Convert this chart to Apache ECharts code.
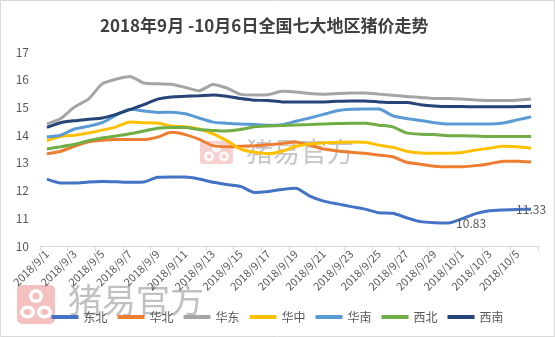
<!DOCTYPE html>
<html>
<head>
<meta charset="utf-8">
<script src="https://cdn.jsdelivr.net/npm/echarts@6/dist/echarts.min.js"></script>
<style>
  html, body { margin: 0; padding: 0; background: #fff; }
  #chart { width: 555px; height: 337px; }
</style>
</head>
<body>
<div id="chart"></div>
<script>
// Dates, 2018/9/1 to 2018/10/6
const dates = [
  '2018/9/1','2018/9/2','2018/9/3','2018/9/4','2018/9/5','2018/9/6','2018/9/7','2018/9/8',
  '2018/9/9','2018/9/10','2018/9/11','2018/9/12','2018/9/13','2018/9/14','2018/9/15','2018/9/16',
  '2018/9/17','2018/9/18','2018/9/19','2018/9/20','2018/9/21','2018/9/22','2018/9/23','2018/9/24',
  '2018/9/25','2018/9/26','2018/9/27','2018/9/28','2018/9/29','2018/9/30','2018/10/1','2018/10/2',
  '2018/10/3','2018/10/4','2018/10/5','2018/10/6'
];

// Regional pig prices (yuan/kg)
const dongbei = [12.41,12.27,12.27,12.31,12.33,12.32,12.30,12.31,12.48,12.49,12.49,12.42,
  12.30,12.22,12.15,11.93,11.97,12.04,12.08,11.80,11.62,11.52,11.42,11.33,
  11.20,11.18,11.02,10.88,10.84,10.83,10.98,11.17,11.27,11.30,11.32,11.33];
const huabei = [13.33,13.42,13.60,13.76,13.82,13.84,13.84,13.84,13.93,14.10,14.02,13.85,
  13.62,13.58,13.60,13.62,13.65,13.70,13.75,13.64,13.50,13.43,13.38,13.35,
  13.28,13.22,13.02,12.95,12.88,12.86,12.86,12.90,12.97,13.06,13.06,13.03];
const huadong = [14.40,14.60,15.02,15.30,15.85,16.02,16.12,15.88,15.85,15.84,15.72,15.60,
  15.83,15.70,15.47,15.45,15.46,15.58,15.56,15.50,15.48,15.50,15.52,15.52,
  15.48,15.44,15.39,15.36,15.32,15.32,15.30,15.27,15.25,15.25,15.26,15.30];
const huazhong = [13.80,13.95,14.00,14.08,14.18,14.30,14.47,14.45,14.44,14.33,14.30,14.22,
  14.05,13.80,13.50,13.38,13.33,13.42,13.60,13.68,13.72,13.74,13.75,13.74,
  13.64,13.56,13.42,13.36,13.35,13.35,13.37,13.46,13.53,13.60,13.58,13.53];
const huanan = [13.93,14.00,14.22,14.32,14.45,14.72,14.93,14.87,14.82,14.83,14.77,14.62,
  14.47,14.43,14.40,14.38,14.36,14.38,14.50,14.62,14.75,14.88,14.93,14.94,
  14.94,14.70,14.60,14.53,14.45,14.40,14.40,14.40,14.40,14.44,14.55,14.66];
const xibei = [13.50,13.58,13.67,13.80,13.90,13.97,14.05,14.15,14.25,14.28,14.28,14.20,
  14.17,14.15,14.20,14.30,14.33,14.35,14.37,14.38,14.40,14.42,14.43,14.43,
  14.36,14.30,14.08,14.03,14.02,13.98,13.98,13.97,13.95,13.95,13.95,13.95];
const xinan = [14.28,14.45,14.52,14.57,14.62,14.75,14.92,15.10,15.30,15.38,15.40,15.42,
  15.45,15.40,15.32,15.26,15.25,15.20,15.20,15.20,15.20,15.22,15.23,15.23,
  15.20,15.18,15.18,15.10,15.05,15.03,15.03,15.02,15.02,15.02,15.03,15.04];

const seriesNames = ['东北','华北','华东','华中','华南','西北','西南'];
const seriesData = [dongbei, huabei, huadong, huazhong, huanan, xibei, xinan];
const seriesColors = ['#4472C4','#ED7D31','#A5A5A5','#FFC000','#5B9BD5','#70AD47','#264478'];

// 东北 carries two value labels: the low point and the last day
const dongbeiLabels = { 29: 'right', 35: 'inside' };

const textColor = '#595959';
const font = '"Noto Sans CJK SC", "Noto Sans", sans-serif';

const series = seriesNames.map((name, si) => ({
  name,
  type: 'line',
  smooth: 0.2,
  symbol: 'circle',
  symbolSize: 0,
  showSymbol: true,
  showAllSymbol: true,
  lineStyle: { width: 3, color: seriesColors[si] },
  itemStyle: { color: seriesColors[si] },
  z: 2 + si,
  data: seriesData[si].map((v, i) => {
    if (si === 0 && dongbeiLabels[i]) {
      return {
        value: v,
        label: {
          show: true,
          position: dongbeiLabels[i],
          distance: 8,
          formatter: (p) => p.value.toFixed(2),
          color: textColor,
          fontSize: 12,
          fontFamily: font
        }
      };
    }
    return v;
  })
}));

const chart = echarts.init(document.getElementById('chart'), null, { renderer: 'canvas' });

chart.setOption({
  backgroundColor: '#ffffff',
  animation: false,
  title: {
    text: '2018年9月 -10月6日全国七大地区猪价走势',
    left: 95,
    top: 12,
    textStyle: { color: '#404040', fontSize: 17, fontWeight: 'bold', fontFamily: font }
  },
  grid: { left: 40, right: 17, top: 52, bottom: 91, containLabel: false },
  xAxis: {
    type: 'category',
    data: dates,
    boundaryGap: true,
    axisLine: { lineStyle: { color: '#D9D9D9', width: 1 } },
    axisTick: { show: true, interval: 1, length: 5, lineStyle: { color: '#D9D9D9' } },
    axisLabel: {
      interval: 1,
      rotate: 45,
      color: textColor,
      fontSize: 11,
      fontFamily: font,
      margin: 6
    },
    splitLine: { show: false }
  },
  yAxis: {
    type: 'value',
    min: 10,
    max: 17,
    interval: 1,
    axisLine: { show: false },
    axisTick: { show: false },
    splitLine: { show: false },
    axisLabel: { color: textColor, fontSize: 12, fontFamily: font, margin: 11 }
  },
  legend: {
    data: seriesNames,
    bottom: 9,
    left: 'center',
    icon: 'rect',
    itemWidth: 27,
    itemHeight: 4,
    itemGap: 10,
    textStyle: { color: textColor, fontSize: 12, fontFamily: font }
  },
  series,
  graphic: [
    // chart frame
    {
      type: 'rect',
      shape: { x: 0.5, y: 0.5, width: 554, height: 336 },
      style: { fill: 'none', stroke: '#D9D9D9', lineWidth: 1 },
      z: 100, silent: true
    },
    // watermark in the plot
    {
      type: 'group', left: 200, top: 138, z: 50, silent: true,
      children: [
        { type: 'rect', shape: { x: 0, y: 0, width: 33, height: 23, r: 3 }, style: { fill: 'rgba(238,150,150,0.45)' } },
        { type: 'circle', shape: { cx: 16.5, cy: 7, r: 4.5 }, style: { fill: 'rgba(255,255,255,0.85)' } },
        { type: 'circle', shape: { cx: 9, cy: 15.5, r: 5 }, style: { fill: 'rgba(255,255,255,0.85)' } },
        { type: 'circle', shape: { cx: 24, cy: 15.5, r: 5 }, style: { fill: 'rgba(255,255,255,0.85)' } },
        { type: 'circle', shape: { cx: 9, cy: 15.5, r: 2 }, style: { fill: 'rgba(238,150,150,0.5)' } },
        { type: 'circle', shape: { cx: 24, cy: 15.5, r: 2 }, style: { fill: 'rgba(238,150,150,0.5)' } },
        { type: 'text', x: 46, y: -3, style: { text: '猪易官方', fill: 'rgba(150,150,150,0.55)', fontSize: 27, fontFamily: font } }
      ]
    },
    // watermark in the lower-left corner
    {
      type: 'group', left: 17, top: 283, z: 50, silent: true,
      children: [
        { type: 'rect', shape: { x: 0, y: 0, width: 38, height: 39, r: 5 }, style: { fill: 'rgba(238,150,150,0.6)' } },
        { type: 'circle', shape: { cx: 19, cy: 11, r: 7 }, style: { fill: 'rgba(255,255,255,0.95)' } },
        { type: 'circle', shape: { cx: 19, cy: 11, r: 3.5 }, style: { fill: 'rgba(238,150,150,0.6)' } },
        { type: 'ellipse', shape: { cx: 10.5, cy: 27, rx: 7.5, ry: 6.5 }, style: { fill: 'rgba(255,255,255,0.95)' } },
        { type: 'ellipse', shape: { cx: 27.5, cy: 27, rx: 7.5, ry: 6.5 }, style: { fill: 'rgba(255,255,255,0.95)' } },
        { type: 'ellipse', shape: { cx: 10.5, cy: 27, rx: 4, ry: 3 }, style: { fill: 'rgba(238,150,150,0.6)' } },
        { type: 'ellipse', shape: { cx: 27.5, cy: 27, rx: 4, ry: 3 }, style: { fill: 'rgba(238,150,150,0.6)' } },
        { type: 'text', x: 51, y: -2, style: { text: '猪易官方', fill: 'rgba(140,140,140,0.55)', fontSize: 34, fontFamily: font } }
      ]
    }
  ]
});
</script>
</body>
</html>
